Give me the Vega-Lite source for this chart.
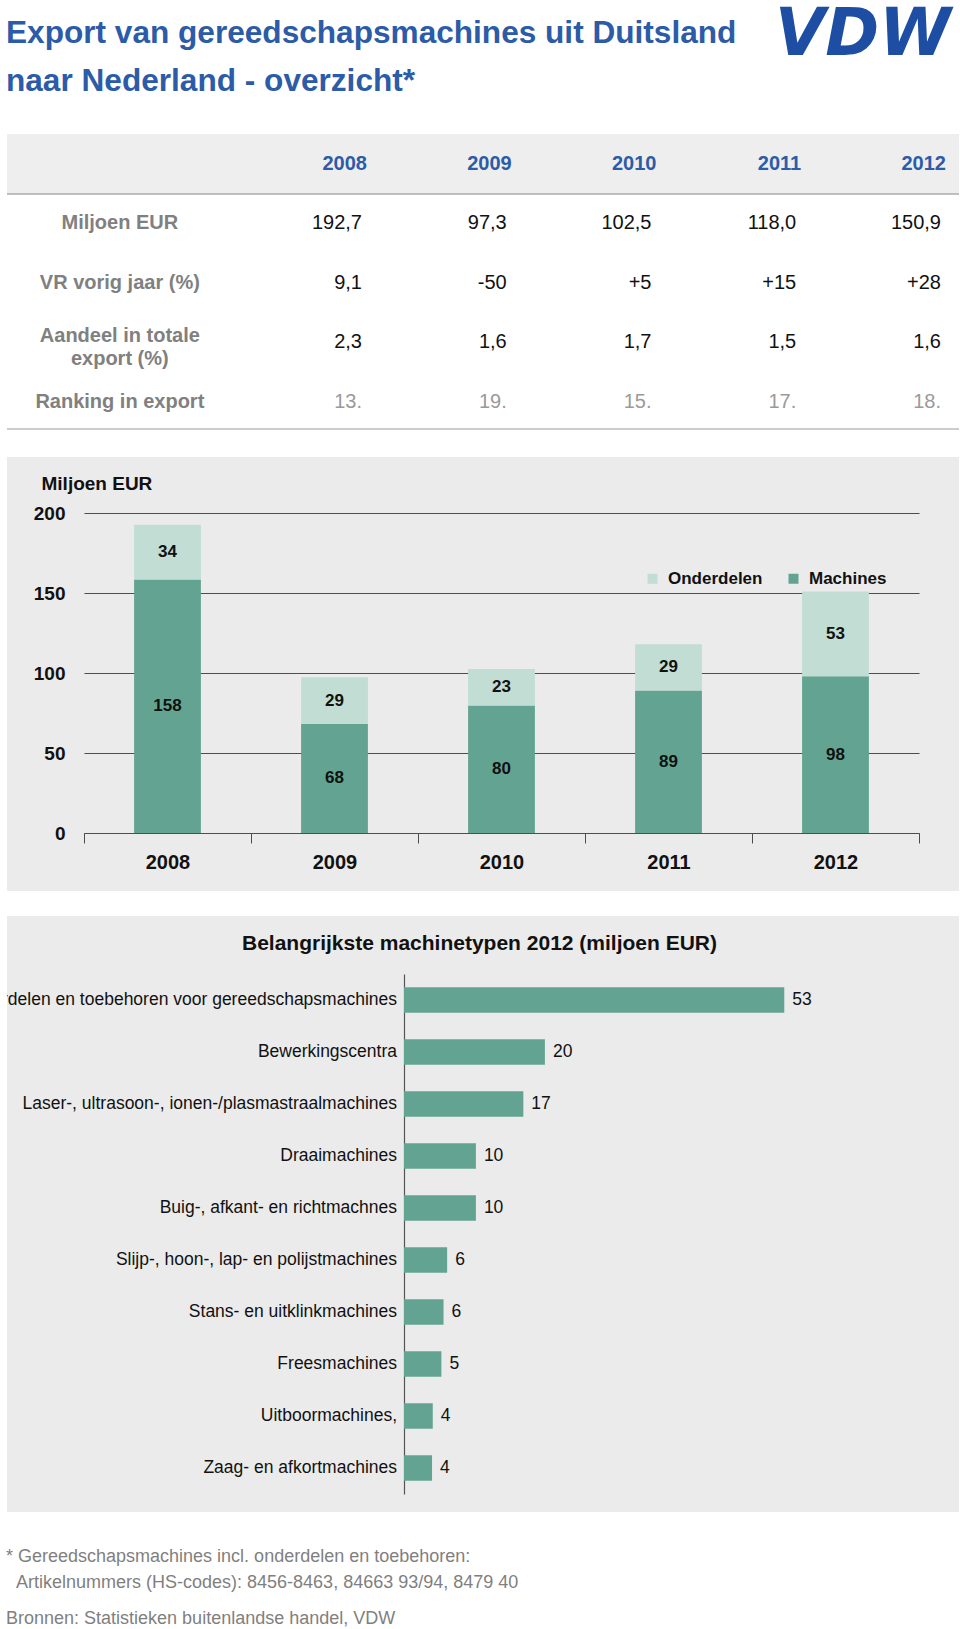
{
  "$schema": "https://vega.github.io/schema/vega-lite/v6.json",
  "padding": {"left": 6, "right": 2, "top": 0, "bottom": 0},
  "background": "white",
  "spacing": 25,
  "config": {
    "font": "Liberation Sans",
    "view": {"stroke": null}
  },
  "datasets": {
    "kop": [
      {"onderdeel": "titel", "regel": 1, "tekst": "Export van gereedschapsmachines uit Duitsland"},
      {"onderdeel": "titel", "regel": 2, "tekst": "naar Nederland - overzicht*"},
      {"onderdeel": "logo", "regel": 1, "tekst": "VDW"}
    ],
    "tabel": [
      {"rij": "kop", "kolom": "2008", "tekst": "2008"},
      {"rij": "kop", "kolom": "2009", "tekst": "2009"},
      {"rij": "kop", "kolom": "2010", "tekst": "2010"},
      {"rij": "kop", "kolom": "2011", "tekst": "2011"},
      {"rij": "kop", "kolom": "2012", "tekst": "2012"},
      {"rij": "miljoen", "kolom": "label", "tekst": "Miljoen EUR"},
      {"rij": "miljoen", "kolom": "2008", "tekst": "192,7"},
      {"rij": "miljoen", "kolom": "2009", "tekst": "97,3"},
      {"rij": "miljoen", "kolom": "2010", "tekst": "102,5"},
      {"rij": "miljoen", "kolom": "2011", "tekst": "118,0"},
      {"rij": "miljoen", "kolom": "2012", "tekst": "150,9"},
      {"rij": "vr", "kolom": "label", "tekst": "VR vorig jaar (%)"},
      {"rij": "vr", "kolom": "2008", "tekst": "9,1"},
      {"rij": "vr", "kolom": "2009", "tekst": "-50"},
      {"rij": "vr", "kolom": "2010", "tekst": "+5"},
      {"rij": "vr", "kolom": "2011", "tekst": "+15"},
      {"rij": "vr", "kolom": "2012", "tekst": "+28"},
      {"rij": "aandeel", "kolom": "label", "tekst": "Aandeel in totale\nexport (%)"},
      {"rij": "aandeel", "kolom": "2008", "tekst": "2,3"},
      {"rij": "aandeel", "kolom": "2009", "tekst": "1,6"},
      {"rij": "aandeel", "kolom": "2010", "tekst": "1,7"},
      {"rij": "aandeel", "kolom": "2011", "tekst": "1,5"},
      {"rij": "aandeel", "kolom": "2012", "tekst": "1,6"},
      {"rij": "ranking", "kolom": "label", "tekst": "Ranking in export"},
      {"rij": "ranking", "kolom": "2008", "tekst": "13."},
      {"rij": "ranking", "kolom": "2009", "tekst": "19."},
      {"rij": "ranking", "kolom": "2010", "tekst": "15."},
      {"rij": "ranking", "kolom": "2011", "tekst": "17."},
      {"rij": "ranking", "kolom": "2012", "tekst": "18."}
    ],
    "staaf": [
      {"jaar": "2008", "soort": "Machines", "waarde": 158.4},
      {"jaar": "2008", "soort": "Onderdelen", "waarde": 34.3},
      {"jaar": "2009", "soort": "Machines", "waarde": 68.3},
      {"jaar": "2009", "soort": "Onderdelen", "waarde": 29.0},
      {"jaar": "2010", "soort": "Machines", "waarde": 79.7},
      {"jaar": "2010", "soort": "Onderdelen", "waarde": 22.8},
      {"jaar": "2011", "soort": "Machines", "waarde": 89.1},
      {"jaar": "2011", "soort": "Onderdelen", "waarde": 28.9},
      {"jaar": "2012", "soort": "Machines", "waarde": 97.9},
      {"jaar": "2012", "soort": "Onderdelen", "waarde": 53.0}
    ],
    "typen": [
      {"type": "Onderdelen en toebehoren voor gereedschapsmachines", "waarde": 52.9},
      {"type": "Bewerkingscentra", "waarde": 19.6},
      {"type": "Laser-, ultrasoon-, ionen-/plasmastraalmachines", "waarde": 16.6},
      {"type": "Draaimachines", "waarde": 10.0},
      {"type": "Buig-, afkant- en richtmachnes", "waarde": 10.0},
      {"type": "Slijp-, hoon-, lap- en polijstmachines", "waarde": 6.0},
      {"type": "Stans- en uitklinkmachines", "waarde": 5.5},
      {"type": "Freesmachines", "waarde": 5.2},
      {"type": "Uitboormachines,", "waarde": 4.0},
      {"type": "Zaag- en afkortmachines", "waarde": 3.9}
    ],
    "voet": [
      {"blok": "voet", "regel": 1, "tekst": "* Gereedschapsmachines incl. onderdelen en toebehoren:"},
      {"blok": "voet", "regel": 2, "tekst": "Artikelnummers (HS-codes): 8456-8463, 84663 93/94, 8479 40"},
      {"blok": "voet", "regel": 3, "tekst": "Bronnen: Statistieken buitenlandse handel, VDW"}
    ]
  },
  "vconcat": [
    {
      "spacing": 0,
      "vconcat": [
        {
          "width": 952,
          "height": 112,
          "data": {"name": "kop"},
          "encoding": {
            "x": {"field": "onderdeel", "type": "nominal", "scale": {"type": "point", "domain": ["titel", "logo"], "padding": 0}, "axis": null},
            "y": {"field": "regel", "type": "ordinal", "scale": {"type": "band", "domain": [1, 2], "paddingInner": 0, "paddingOuter": 0.1667, "align": 0.625}, "axis": null},
            "text": {"field": "tekst"}
          },
          "layer": [
            {
              "transform": [{"filter": "datum.onderdeel === 'titel'"}],
              "mark": {"type": "text", "align": "left", "baseline": "middle", "fontSize": 31.6, "fontWeight": "bold", "color": "#2c5ba8", "dx": -1, "clip": true}
            },
            {
              "transform": [{"filter": "datum.onderdeel === 'logo'"}],
              "mark": {"type": "text", "align": "right", "baseline": "middle", "font": "DejaVu Sans", "fontSize": 65, "fontWeight": "bold", "fontStyle": "italic", "color": "#1d4ea3", "dx": -8, "dy": 1, "clip": true}
            }
          ]
        },
        {
          "width": 952,
          "height": 345,
          "data": {"name": "tabel"},
          "layer": [
            {
              "transform": [{"filter": "datum.rij === 'kop'"}],
              "mark": {"type": "rect", "color": "#eeeeee"},
              "encoding": {
                "y": {"field": "rij", "type": "nominal", "scale": {"type": "band", "domain": ["kop", "miljoen", "vr", "aandeel", "ranking"], "paddingInner": 0, "paddingOuter": 0.399, "align": 0.468}, "axis": null}
              }
            },
            {
              "transform": [{"filter": "datum.rij === 'kop'"}],
              "mark": {"type": "rule", "color": "#bdbdbd", "strokeWidth": 1.5},
              "encoding": {
                "y": {"field": "rij", "type": "nominal", "bandPosition": 1}
              }
            },
            {
              "transform": [{"filter": "datum.rij === 'ranking'"}],
              "mark": {"type": "rule", "color": "#cccccc", "strokeWidth": 1.5, "yOffset": -3},
              "encoding": {
                "y": {"field": "rij", "type": "nominal", "bandPosition": 1}
              }
            },
            {
              "transform": [{"filter": "datum.rij === 'kop'"}],
              "mark": {"type": "text", "align": "right", "baseline": "middle", "fontSize": 20, "fontWeight": "bold", "color": "#2c5ba8", "dx": 5},
              "encoding": {
                "x": {"field": "kolom", "type": "nominal", "bandPosition": 1, "scale": {"type": "band", "domain": ["label", "2008", "2009", "2010", "2011", "2012"], "paddingInner": 0, "paddingOuter": 0.2884, "align": 0.784}, "axis": null},
                "y": {"field": "rij", "type": "nominal"},
                "text": {"field": "tekst"}
              }
            },
            {
              "transform": [{"filter": "datum.kolom === 'label' && datum.rij !== 'aandeel'"}],
              "mark": {"type": "text", "align": "center", "baseline": "middle", "fontSize": 20, "fontWeight": "bold", "color": "#808080", "dx": -25},
              "encoding": {
                "x": {"field": "kolom", "type": "nominal", "bandPosition": 0.5},
                "y": {"field": "rij", "type": "nominal"},
                "text": {"field": "tekst"}
              }
            },
            {
              "transform": [{"filter": "datum.kolom === 'label' && datum.rij === 'aandeel'"}],
              "mark": {"type": "text", "align": "center", "baseline": "middle", "fontSize": 20, "fontWeight": "bold", "color": "#808080", "dx": -25, "dy": -6, "lineBreak": "\n", "lineHeight": 22.5},
              "encoding": {
                "x": {"field": "kolom", "type": "nominal", "bandPosition": 0.5},
                "y": {"field": "rij", "type": "nominal"},
                "text": {"field": "tekst"}
              }
            },
            {
              "transform": [{"filter": "datum.kolom !== 'label' && datum.rij !== 'kop' && datum.rij !== 'ranking'"}],
              "mark": {"type": "text", "align": "right", "baseline": "middle", "fontSize": 20, "color": "#111111"},
              "encoding": {
                "x": {"field": "kolom", "type": "nominal", "bandPosition": 1},
                "y": {"field": "rij", "type": "nominal"},
                "text": {"field": "tekst"}
              }
            },
            {
              "transform": [{"filter": "datum.kolom !== 'label' && datum.rij === 'ranking'"}],
              "mark": {"type": "text", "align": "right", "baseline": "middle", "fontSize": 20, "color": "#9a9a9a"},
              "encoding": {
                "x": {"field": "kolom", "type": "nominal", "bandPosition": 1},
                "y": {"field": "rij", "type": "nominal"},
                "text": {"field": "tekst"}
              }
            }
          ]
        },
        {
          "width": 952,
          "height": 434,
          "view": {"fill": "#ebebeb", "stroke": null},
          "data": {"name": "staaf"},
          "encoding": {
            "x": {
              "field": "jaar", "type": "nominal",
              "scale": {"type": "band", "range": [77, 912], "paddingInner": 0, "paddingOuter": 0},
              "axis": {"orient": "bottom", "offset": -58, "tickBand": "extent", "domainColor": "#4d4d4d", "domainWidth": 1, "tickColor": "#4d4d4d", "tickSize": 10, "tickWidth": 1, "labelFontSize": 20, "labelFontWeight": "bold", "labelColor": "#111111", "labelPadding": 9, "labelAngle": 0, "title": null, "grid": false}
            }
          },
          "layer": [
            {
              "mark": {"type": "bar", "width": {"band": 0.4}},
              "encoding": {
                "y": {
                  "field": "waarde", "type": "quantitative", "stack": "zero",
                  "scale": {"domain": [0, 200], "range": [376, 56], "nice": false, "zero": true},
                  "axis": {"orient": "left", "offset": -58, "values": [0, 50, 100, 150, 200], "domain": false, "ticks": false, "tickSize": 0, "labelPadding": 0, "labelFontSize": 19, "labelFontWeight": "bold", "labelColor": "#111111", "grid": true, "gridColor": "#4d4d4d", "gridWidth": 1, "title": "Miljoen EUR", "titleAngle": 0, "titleAlign": "left", "titleBaseline": "middle", "titleX": -24, "titleY": 26, "titleFontSize": 19, "titleFontWeight": "bold", "titleColor": "#111111"}
                },
                "color": {
                  "field": "soort", "type": "nominal",
                  "scale": {"domain": ["Onderdelen", "Machines"], "range": ["#c2ddd4", "#62a491"]},
                  "legend": {"orient": "none", "legendX": 637, "legendY": 570, "direction": "horizontal", "title": null, "symbolType": "square", "symbolSize": 100, "symbolStrokeWidth": 0, "labelFontSize": 17, "labelFontWeight": "bold", "labelColor": "#111111", "labelOffset": 7, "columnPadding": 22, "padding": 0}
                },
                "order": {"field": "soort", "sort": "ascending"}
              }
            },
            {
              "mark": {"type": "text", "baseline": "middle", "fontSize": 17, "fontWeight": "bold", "color": "#111111"},
              "encoding": {
                "y": {"field": "waarde", "type": "quantitative", "stack": "zero", "bandPosition": 0.5},
                "detail": {"field": "soort"},
                "order": {"field": "soort", "sort": "ascending"},
                "text": {"field": "waarde", "format": ".0f"}
              }
            }
          ]
        }
      ]
    },
    {
      "spacing": 0,
      "vconcat": [
        {
          "width": 952,
          "height": 596,
          "view": {"fill": "#ebebeb", "stroke": null},
          "data": {"name": "typen"},
          "encoding": {
            "y": {
              "field": "type", "type": "nominal", "sort": null,
              "scale": {"type": "band", "range": [58, 578], "paddingInner": 0.51, "paddingOuter": 0.255},
              "axis": {"orient": "left", "offset": -397, "labels": false, "ticks": false, "domain": true, "domainColor": "#555555", "domainWidth": 1.2, "grid": false, "title": "Belangrijkste machinetypen 2012 (miljoen EUR)", "titleAngle": 0, "titleAlign": "center", "titleBaseline": "middle", "titleX": 75, "titleY": 27, "titleFontSize": 21, "titleFontWeight": "bold", "titleColor": "#111111"}
            }
          },
          "layer": [
            {
              "mark": {"type": "bar", "color": "#62a491"},
              "encoding": {
                "x": {"field": "waarde", "type": "quantitative", "scale": {"domain": [0, 53], "range": [397, 778], "nice": false}, "axis": null}
              }
            },
            {
              "mark": {"type": "text", "align": "left", "baseline": "middle", "dx": 8, "fontSize": 17.5, "color": "#111111"},
              "encoding": {
                "x": {"field": "waarde", "type": "quantitative"},
                "text": {"field": "waarde", "format": ".0f"}
              }
            },
            {
              "mark": {"type": "text", "align": "right", "baseline": "middle", "dx": -7, "fontSize": 17.5, "color": "#111111", "clip": true},
              "encoding": {
                "x": {"datum": 0, "type": "quantitative"},
                "text": {"field": "type"}
              }
            }
          ]
        },
        {
          "width": 952,
          "height": 117,
          "data": {"name": "voet"},
          "encoding": {
            "x": {"field": "blok", "type": "nominal", "scale": {"type": "point", "domain": ["voet"], "padding": 0, "align": 0}, "axis": null},
            "y": {"field": "regel", "type": "ordinal", "scale": {"type": "band", "domain": [1, 2, 3], "paddingInner": 0, "paddingOuter": 0.75, "align": 0.8205}, "axis": null},
            "text": {"field": "tekst"}
          },
          "layer": [
            {
              "transform": [{"filter": "datum.regel === 1"}],
              "mark": {"type": "text", "align": "left", "baseline": "middle", "fontSize": 18, "color": "#7f7f7f", "dx": -1}
            },
            {
              "transform": [{"filter": "datum.regel === 2"}],
              "mark": {"type": "text", "align": "left", "baseline": "middle", "fontSize": 18, "color": "#7f7f7f", "dx": 9}
            },
            {
              "transform": [{"filter": "datum.regel === 3"}],
              "mark": {"type": "text", "align": "left", "baseline": "middle", "fontSize": 18, "color": "#7f7f7f", "dx": -1, "dy": 10}
            }
          ]
        }
      ]
    }
  ]
}
